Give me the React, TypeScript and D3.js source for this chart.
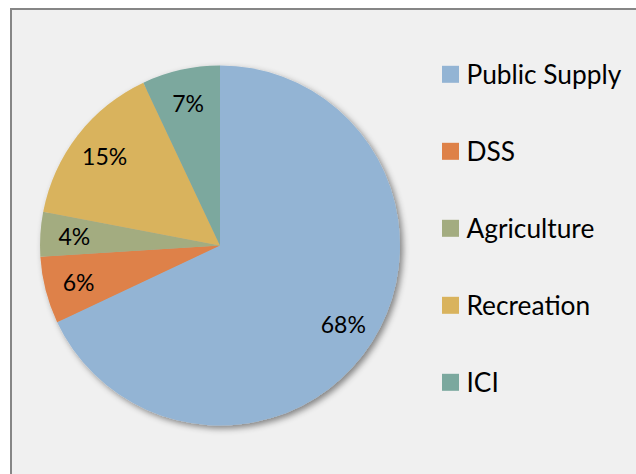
import React from 'react';
import * as d3 from 'd3';

const categories = ['Public Supply', 'DSS', 'Agriculture', 'Recreation', 'ICI'];
const shares = [68, 6, 4, 15, 7];
const colors = ['#93b4d4', '#de8148', '#a3ac80', '#d9b35d', '#7ba89e'];

const W = 636;
const H = 474;
const cx = 220;
const cy = 245.5;
const radius = 180;
const labelRadius = 146;

export default function App() {
  const pie = d3.pie<number>().sort(null).value(d => d);
  const arcs = pie(shares);
  const arc = d3.arc<d3.PieArcDatum<number>>().innerRadius(0).outerRadius(radius);
  const labelArc = d3.arc<d3.PieArcDatum<number>>().innerRadius(labelRadius).outerRadius(labelRadius);

  const legendY = d3.scalePoint<string>().domain(categories).range([74.3, 382.3]);
  const font = 'Lato, "Open Sans", sans-serif';

  return (
    <svg width={W} height={H} style={{ position: 'fixed', left: 0, top: 0 }} fontFamily={font}>
      <defs>
        <filter id="shadow" x="-20%" y="-20%" width="140%" height="140%">
          <feDropShadow dx="3" dy="3" stdDeviation="3" floodColor="#000" floodOpacity="0.45" />
        </filter>
      </defs>
      <rect x={0} y={0} width={W} height={H} fill="#ffffff" />
      <rect x={11} y={9} width={W + 20} height={H + 20} fill="#f0f0f0" stroke="#868686" strokeWidth={2} />
      <g transform={`translate(${cx},${cy})`}>
        <g filter="url(#shadow)">
          {arcs.map((a, i) => (
            <path key={categories[i]} d={arc(a) || ''} fill={colors[i]} />
          ))}
        </g>
        {arcs.map((a, i) => {
          const [x, y] = labelArc.centroid(a);
          return (
            <text key={categories[i]} x={x} y={y} textAnchor="middle" dominantBaseline="central" fontSize={23} fill="#000">
              {shares[i]}%
            </text>
          );
        })}
      </g>
      <g>
        {categories.map((c, i) => (
          <g key={c} transform={`translate(442,${legendY(c)})`}>
            <rect x={0} y={-8.5} width={17} height={17} fill={colors[i]} />
            <text x={24.5} y={0} dominantBaseline="central" fontSize={26.3} fill="#000">
              {c}
            </text>
          </g>
        ))}
      </g>
    </svg>
  );
}
